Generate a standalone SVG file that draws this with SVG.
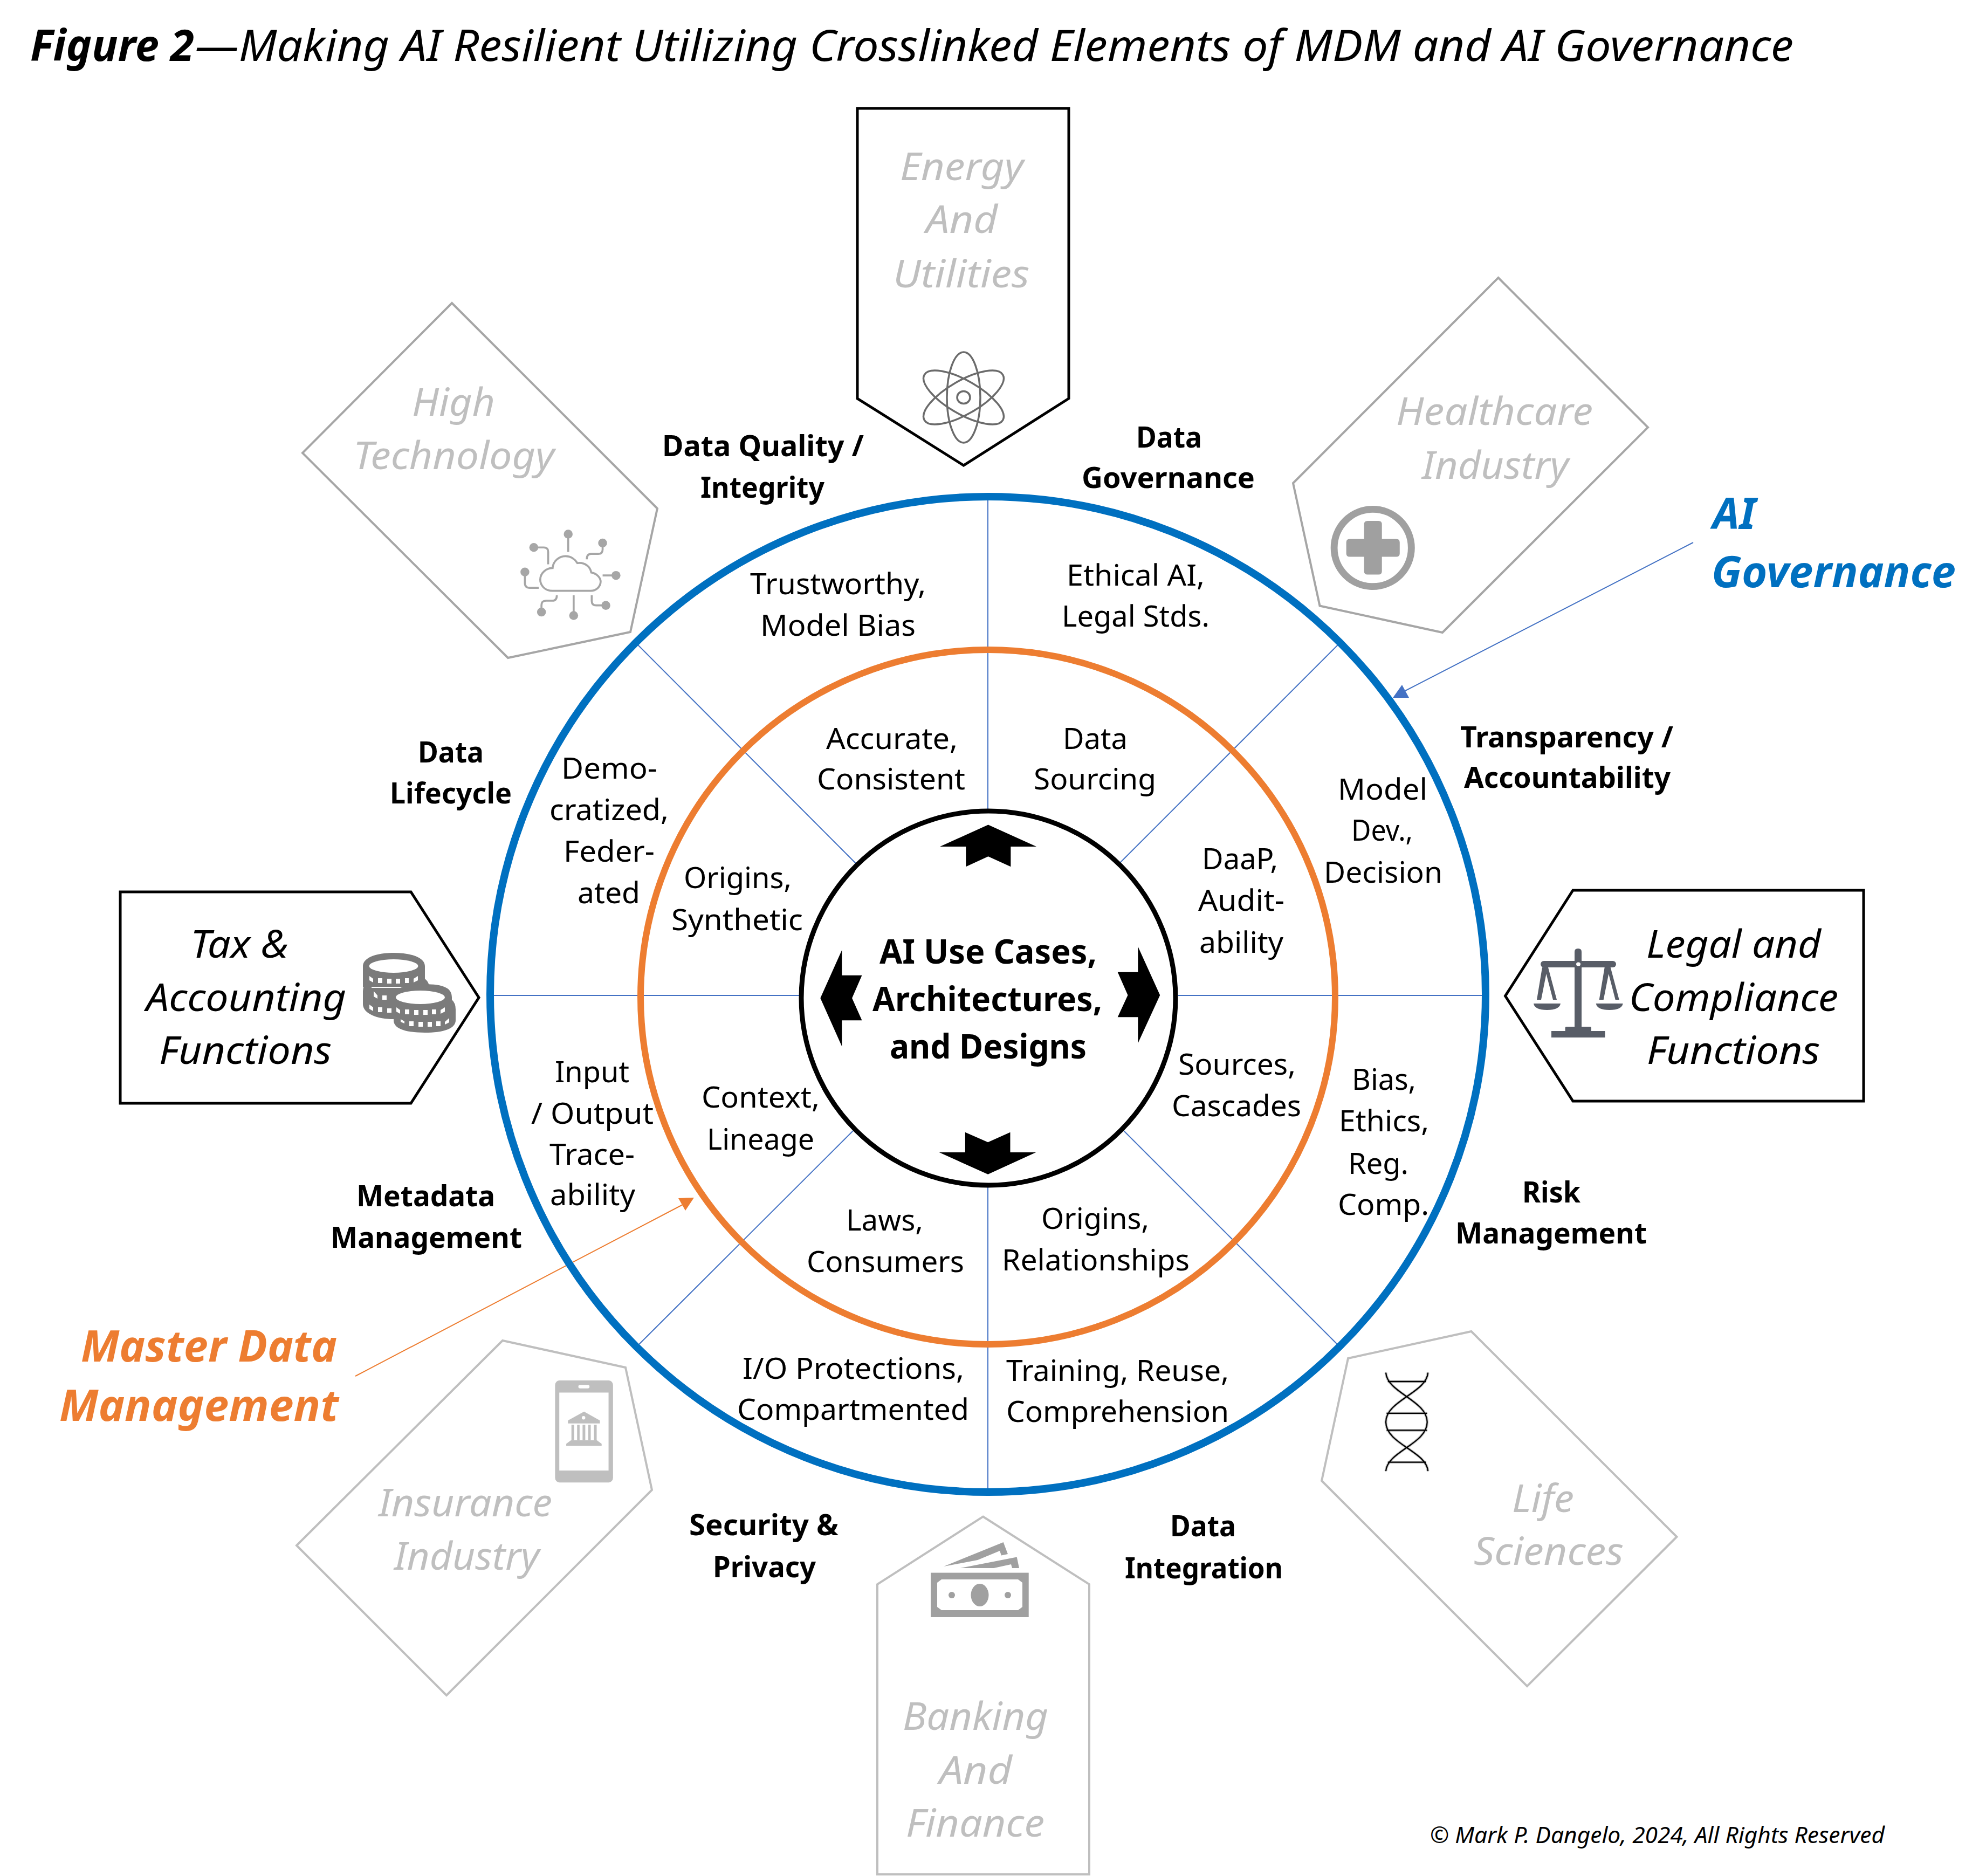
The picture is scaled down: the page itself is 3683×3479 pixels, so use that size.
<svg xmlns="http://www.w3.org/2000/svg" width="3683" height="3479" viewBox="0 0 3683 3479">
<style>
text{font-family:"Noto Sans","Open Sans","Liberation Sans",sans-serif;fill:#000}
.lbl{font-size:54px}
.bld{font-size:54px;font-weight:700}
.core{font-size:62px;font-weight:700}
.func{font-size:72px;font-style:italic}
.ind{font-size:72px;font-style:italic;fill:#BFBFBF}
.title{font-size:80px;font-style:italic}
.call{font-size:80px;font-style:italic;font-weight:700}
.note{font-size:41px;font-style:italic}
.ringB{fill:none;stroke:#0070C0;stroke-width:14}
.ringO{fill:none;stroke:#ED7D31;stroke-width:12}
.ringK{fill:#fff;stroke:#000;stroke-width:9}
.spoke{fill:none;stroke:#4472C4;stroke-width:2}
.pK{fill:#fff;stroke:#000;stroke-width:5}
.pG1{fill:#fff;stroke:#A6A6A6;stroke-width:4}
.pG2{fill:#fff;stroke:#BFBFBF;stroke-width:4}
</style>
<rect width="3683" height="3479" fill="#fff"/>

<g id="title">
<text class="title" y="113"><tspan x="56" font-weight="700" textLength="304" lengthAdjust="spacingAndGlyphs">Figure 2</tspan><tspan x="362" textLength="2964" lengthAdjust="spacingAndGlyphs">—Making AI Resilient Utilizing Crosslinked Elements of MDM and AI Governance</tspan></text>
</g>

<g id="connectors">
<path class="spoke" d="M1832 918V1502M1832 2194V2770M908 1846H1482M2185 1846H2757M1180 1193L1588 1602M2484 1193L2077 1600M1180 2498L1582 2097M2483 2496L2084 2097"/>
<path d="M3140 1006L2606 1281" fill="none" stroke="#4472C4" stroke-width="2"/>
<polygon points="2600,1270 2583,1294 2613,1294" fill="#4472C4"/>
<path d="M659 2552L1266 2234" fill="none" stroke="#ED7D31" stroke-width="2"/>
<polygon points="1287,2221 1258,2222 1271,2245" fill="#ED7D31"/>
</g>

<g id="ai-governance-ring"><circle class="ringB" cx="1832" cy="1844" r="923"/></g>
<g id="mdm-ring"><circle class="ringO" cx="1832" cy="1849" r="644"/></g>

<g id="core">
<circle class="ringK" cx="1833" cy="1851" r="347"/>
<g transform="translate(1480 1480) scale(.4591)" fill="#000">
<polygon points="768,108 963,196 859,196 859,277 768,236 678,277 678,196 573,196"/>
<polygon points="1462,796 1373,990 1373,885 1291,885 1332,796 1291,703 1373,703 1373,600"/>
<polygon points="90,808 177,614 177,716 258,716 218,808 258,898 177,898 177,1003"/>
<polygon points="767,1520 570,1431 675,1431 675,1350 767,1390 857,1350 857,1431 961,1431"/>
</g>
<text class="core" x="1631" y="1787" textLength="403" lengthAdjust="spacingAndGlyphs">AI Use Cases,</text>
<text class="core" x="1618" y="1875" textLength="426" lengthAdjust="spacingAndGlyphs">Architectures,</text>
<text class="core" x="1650" y="1963" textLength="365" lengthAdjust="spacingAndGlyphs">and Designs</text>
</g>

<g id="ring-topics" transform="translate(0 -2)">
<text class="bld" x="1228" y="848" textLength="374" lengthAdjust="spacingAndGlyphs">Data Quality /</text>
<text class="bld" x="1299" y="925" textLength="230" lengthAdjust="spacingAndGlyphs">Integrity</text>
<text class="bld" x="2107" y="832" textLength="122" lengthAdjust="spacingAndGlyphs">Data</text>
<text class="bld" x="2006" y="907" textLength="321" lengthAdjust="spacingAndGlyphs">Governance</text>
<text class="bld" x="2708" y="1388" textLength="395" lengthAdjust="spacingAndGlyphs">Transparency /</text>
<text class="bld" x="2715" y="1463" textLength="383" lengthAdjust="spacingAndGlyphs">Accountability</text>
<text class="bld" x="775" y="1416" textLength="122" lengthAdjust="spacingAndGlyphs">Data</text>
<text class="bld" x="723" y="1492" textLength="226" lengthAdjust="spacingAndGlyphs">Lifecycle</text>
<text class="bld" x="661" y="2239" textLength="257" lengthAdjust="spacingAndGlyphs">Metadata</text>
<text class="bld" x="613" y="2316" textLength="355" lengthAdjust="spacingAndGlyphs">Management</text>
<text class="bld" x="2823" y="2232" textLength="108" lengthAdjust="spacingAndGlyphs">Risk</text>
<text class="bld" x="2699" y="2308" textLength="355" lengthAdjust="spacingAndGlyphs">Management</text>
<text class="bld" x="1278" y="2849" textLength="277" lengthAdjust="spacingAndGlyphs">Security &amp;</text>
<text class="bld" x="1322" y="2927" textLength="191" lengthAdjust="spacingAndGlyphs">Privacy</text>
<text class="bld" x="2170" y="2851" textLength="122" lengthAdjust="spacingAndGlyphs">Data</text>
<text class="bld" x="2086" y="2929" textLength="293" lengthAdjust="spacingAndGlyphs">Integration</text>
</g>

<g id="outer-band" transform="translate(0 -3)">
<text class="lbl" x="1391" y="1105" textLength="326" lengthAdjust="spacingAndGlyphs">Trustworthy,</text>
<text class="lbl" x="1410" y="1182" textLength="288" lengthAdjust="spacingAndGlyphs">Model Bias</text>
<text class="lbl" x="1978" y="1089" textLength="256" lengthAdjust="spacingAndGlyphs">Ethical AI,</text>
<text class="lbl" x="1969" y="1165" textLength="274" lengthAdjust="spacingAndGlyphs">Legal Stds.</text>
<text class="lbl" x="1041" y="1447" textLength="178" lengthAdjust="spacingAndGlyphs">Demo-</text>
<text class="lbl" x="1019" y="1524" textLength="221" lengthAdjust="spacingAndGlyphs">cratized,</text>
<text class="lbl" x="1045" y="1601" textLength="169" lengthAdjust="spacingAndGlyphs">Feder-</text>
<text class="lbl" x="1071" y="1678" textLength="116" lengthAdjust="spacingAndGlyphs">ated</text>
<text class="lbl" x="2481" y="1486" textLength="166" lengthAdjust="spacingAndGlyphs">Model</text>
<text class="lbl" x="2506" y="1562" textLength="114" lengthAdjust="spacingAndGlyphs">Dev.,</text>
<text class="lbl" x="2455" y="1640" textLength="220" lengthAdjust="spacingAndGlyphs">Decision</text>
<text class="lbl" x="2507" y="2024" textLength="119" lengthAdjust="spacingAndGlyphs">Bias,</text>
<text class="lbl" x="2483" y="2101" textLength="167" lengthAdjust="spacingAndGlyphs">Ethics,</text>
<text class="lbl" x="2500" y="2180" textLength="112" lengthAdjust="spacingAndGlyphs">Reg.</text>
<text class="lbl" x="2481" y="2256" textLength="169" lengthAdjust="spacingAndGlyphs">Comp.</text>
<text class="lbl" x="1029" y="2010" textLength="138" lengthAdjust="spacingAndGlyphs">Input</text>
<text class="lbl" x="985" y="2087" textLength="227" lengthAdjust="spacingAndGlyphs">/ Output</text>
<text class="lbl" x="1019" y="2163" textLength="158" lengthAdjust="spacingAndGlyphs">Trace-</text>
<text class="lbl" x="1020" y="2238" textLength="158" lengthAdjust="spacingAndGlyphs">ability</text>
<text class="lbl" x="1377" y="2560" textLength="411" lengthAdjust="spacingAndGlyphs">I/O Protections,</text>
<text class="lbl" x="1367" y="2636" textLength="430" lengthAdjust="spacingAndGlyphs">Compartmented</text>
<text class="lbl" x="1866" y="2564" textLength="413" lengthAdjust="spacingAndGlyphs">Training, Reuse,</text>
<text class="lbl" x="1866" y="2640" textLength="413" lengthAdjust="spacingAndGlyphs">Comprehension</text>
</g>

<g id="inner-band" transform="translate(0 -4)">
<text class="lbl" x="1532" y="1393" textLength="244" lengthAdjust="spacingAndGlyphs">Accurate,</text>
<text class="lbl" x="1515" y="1468" textLength="275" lengthAdjust="spacingAndGlyphs">Consistent</text>
<text class="lbl" x="1971" y="1393" textLength="120" lengthAdjust="spacingAndGlyphs">Data</text>
<text class="lbl" x="1917" y="1468" textLength="227" lengthAdjust="spacingAndGlyphs">Sourcing</text>
<text class="lbl" x="1268" y="1651" textLength="200" lengthAdjust="spacingAndGlyphs">Origins,</text>
<text class="lbl" x="1245" y="1729" textLength="244" lengthAdjust="spacingAndGlyphs">Synthetic</text>
<text class="lbl" x="2229" y="1616" textLength="141" lengthAdjust="spacingAndGlyphs">DaaP,</text>
<text class="lbl" x="2222" y="1693" textLength="160" lengthAdjust="spacingAndGlyphs">Audit-</text>
<text class="lbl" x="2224" y="1771" textLength="156" lengthAdjust="spacingAndGlyphs">ability</text>
<text class="lbl" x="2185" y="1997" textLength="218" lengthAdjust="spacingAndGlyphs">Sources,</text>
<text class="lbl" x="2173" y="2074" textLength="240" lengthAdjust="spacingAndGlyphs">Cascades</text>
<text class="lbl" x="1301" y="2058" textLength="219" lengthAdjust="spacingAndGlyphs">Context,</text>
<text class="lbl" x="1311" y="2136" textLength="199" lengthAdjust="spacingAndGlyphs">Lineage</text>
<text class="lbl" x="1569" y="2286" textLength="143" lengthAdjust="spacingAndGlyphs">Laws,</text>
<text class="lbl" x="1496" y="2363" textLength="292" lengthAdjust="spacingAndGlyphs">Consumers</text>
<text class="lbl" x="1931" y="2283" textLength="200" lengthAdjust="spacingAndGlyphs">Origins,</text>
<text class="lbl" x="1858" y="2360" textLength="348" lengthAdjust="spacingAndGlyphs">Relationships</text>
</g>

<g id="node-energy">
<polygon class="pK" points="1590,201 1982,201 1982,739 1787,863 1590,739"/>
<text class="ind" x="1669" y="334" textLength="229" lengthAdjust="spacingAndGlyphs">Energy</text>
<text class="ind" x="1717" y="432" textLength="133" lengthAdjust="spacingAndGlyphs">And</text>
<text class="ind" x="1656" y="533" textLength="253" lengthAdjust="spacingAndGlyphs">Utilities</text>
<g fill="none" stroke="#6B6B6B" stroke-width="3.5">
<ellipse cx="1787" cy="737" rx="31" ry="84"/>
<ellipse cx="1787" cy="737" rx="31" ry="84" transform="rotate(60 1787 737)"/>
<ellipse cx="1787" cy="737" rx="31" ry="84" transform="rotate(-60 1787 737)"/>
<ellipse cx="1787" cy="737" rx="12" ry="11.5"/>
</g>
</g>

<g id="node-high-technology">
<polygon class="pG1" points="838,562 1219,943 1169,1172 942,1220 561,840"/>
<text class="ind" x="764" y="771" textLength="154" lengthAdjust="spacingAndGlyphs">High</text>
<text class="ind" x="655" y="870" textLength="373" lengthAdjust="spacingAndGlyphs">Technology</text>
<g transform="translate(540 530) scale(.4591)" fill="none" stroke="#A6A6A6" stroke-width="8">
<path d="M1055 1232C1020 1232 1006 1205 1006 1187C1006 1160 1030 1140 1056 1140C1058 1110 1085 1092 1108 1092C1130 1092 1147 1105 1156 1120C1185 1115 1208 1135 1212 1158C1235 1162 1250 1180 1250 1195C1250 1215 1232 1232 1210 1232Z"/>
<path d="M1119 1003V1075M980 1057H1020Q1038 1057 1038 1075V1125M1258 1039V1065Q1258 1083 1240 1083H1212Q1194 1083 1194 1105M944 1156V1200Q944 1220 964 1220H1000M1312 1170H1258M1271 1291H1232Q1214 1291 1214 1273V1250M1141 1332V1250M1011 1318V1290Q1011 1272 1029 1272H1055Q1073 1272 1073 1250"/>
<g fill="#A6A6A6" stroke="none">
<circle cx="1119" cy="1003" r="18"/><circle cx="980" cy="1057" r="18"/><circle cx="1258" cy="1039" r="18"/><circle cx="944" cy="1156" r="18"/>
<circle cx="1312" cy="1170" r="18"/><circle cx="1271" cy="1291" r="18"/><circle cx="1141" cy="1332" r="18"/><circle cx="1011" cy="1318" r="18"/>
</g>
</g>
</g>

<g id="node-healthcare">
<polygon class="pG1" points="2778.5,515 3056,792.5 2675,1173 2447.5,1123.5 2398,896"/>
<text class="ind" x="2589" y="788" textLength="365" lengthAdjust="spacingAndGlyphs">Healthcare</text>
<text class="ind" x="2637" y="888" textLength="272" lengthAdjust="spacingAndGlyphs">Industry</text>
<g transform="translate(2380 500) scale(.4591)">
<circle cx="361" cy="1124" r="156" fill="none" stroke="#A0A0A0" stroke-width="28"/>
<path d="M340 1015H384Q398 1015 398 1029V1088H456Q470 1088 470 1102V1146Q470 1160 456 1160H398V1218Q398 1232 384 1232H340Q326 1232 326 1218V1160H268Q254 1160 254 1146V1102Q254 1088 268 1088H326V1029Q326 1015 340 1015Z" fill="#A0A0A0"/>
</g>
</g>

<g id="node-tax">
<polygon class="pK" points="223,1654 762,1654 888,1850 762,2046 223,2046"/>
<text class="func" x="353" y="1776" textLength="182" lengthAdjust="spacingAndGlyphs">Tax &amp;</text>
<text class="func" x="271" y="1875" textLength="371" lengthAdjust="spacingAndGlyphs">Accounting</text>
<text class="func" x="295" y="1973" textLength="320" lengthAdjust="spacingAndGlyphs">Functions</text>
<g fill="#7B7B7B">
<path d="M673 1792C673 1775 700 1767 730 1767C761 1767 788 1775 788 1792V1815Q796 1822 796 1830H673V1792Z"/>
<path d="M673 1838Q673 1828 680 1824L690 1832H780V1880H730Q673 1880 673 1858Z"/>
<path d="M673 1838V1862C673 1880 700 1890 730 1890V1838Z"/>
<path d="M730 1850C730 1833 750 1825 785 1825C825 1825 838 1833 838 1850V1854Q845 1860 845 1872V1892C845 1908 822 1915 788 1915C753 1915 730 1908 730 1892Z"/>
</g>
<g fill="#fff">
<ellipse cx="730" cy="1791.5" rx="45.5" ry="12.5"/>
<ellipse cx="779.5" cy="1849.5" rx="45.5" ry="12.5"/>
<path d="M685 1810L692 1815V1822L685 1818ZM701 1814H709V1823H701ZM718 1815H726V1824H718ZM734 1815H742V1824H734ZM751 1814H758V1823H751ZM767 1815L775 1810V1818L767 1822Z"/>
<path d="M693 1838L700 1846V1852L693 1848ZM709 1846H717V1854H709Z"/>
<path d="M685 1863L692 1868V1875L685 1871ZM701 1868H709V1877H701ZM718 1870H726V1878H718Z"/>
<path d="M735 1868L742 1873V1880L735 1876ZM751 1872H759V1881H751ZM768 1873H776V1882H768ZM785 1873H793V1882H785ZM801 1872H809V1881H801ZM817 1873L825 1868V1876L817 1880Z"/>
<path d="M743 1890L750 1894V1898L743 1895ZM759 1894H767V1903H759ZM776 1895H784V1904H776ZM793 1895H801V1904H793ZM809 1894H817V1903H809ZM825 1895L833 1888V1896L825 1900Z"/>
</g>
</g>

<g id="node-legal">
<polygon class="pK" points="3456,1651 2917,1651 2791.5,1847 2917,2042 3456,2042"/>
<text class="func" x="3053" y="1776" textLength="324" lengthAdjust="spacingAndGlyphs">Legal and</text>
<text class="func" x="3021" y="1875" textLength="388" lengthAdjust="spacingAndGlyphs">Compliance</text>
<text class="func" x="3054" y="1973" textLength="321" lengthAdjust="spacingAndGlyphs">Functions</text>
<g fill="#585D67">
<path d="M2920 1765Q2920 1759 2926.500 1759Q2933 1759 2933 1765V1905H2920Z"/>
<rect x="2857" y="1782" width="140" height="12" rx="6"/>
<polygon points="2927,1775 2939,1788 2927,1801 2915,1788"/>
<polygon points="2860,1794 2850,1854 2858,1854 2867.500,1806 2880,1854 2887,1854 2871,1794"/>
<polygon points="2975.700,1794 2965.700,1854 2973.700,1854 2983.200,1806 2995.700,1854 3002.700,1854 2986.700,1794"/>
<path d="M2844 1861H2894Q2892 1873 2869 1873Q2846 1873 2844 1861Z"/>
<path d="M2959.700 1861H3009.700Q3007.700 1873 2984.700 1873Q2961.700 1873 2959.700 1861Z"/>
<rect x="2877" y="1912" width="99.500" height="12"/>
<rect x="2902.600" y="1904" width="48.400" height="9" rx="2"/>
</g>
<ellipse cx="2927" cy="1788" rx="4" ry="3.500" fill="#fff"/>
</g>

<g id="node-insurance">
<polygon class="pG2" points="932,2486 1160,2536 1209,2763 828,3144 550,2866"/>
<text class="ind" x="702" y="2812" textLength="322" lengthAdjust="spacingAndGlyphs">Insurance</text>
<text class="ind" x="731" y="2911" textLength="269" lengthAdjust="spacingAndGlyphs">Industry</text>
<g transform="translate(540 2470) scale(.4591)">
<rect x="1066" y="196" width="234" height="412" rx="18" fill="#BFBFBF"/>
<rect x="1083" y="245" width="199" height="315" fill="#fff"/>
<rect x="1160" y="214" width="45" height="14" rx="7" fill="#fff"/>
<g fill="#BFBFBF">
<polygon points="1183,322 1247,358 1247,370 1118,370 1118,358"/>
<rect x="1132" y="375" width="11" height="62"/><rect x="1155" y="375" width="10" height="62"/><rect x="1177" y="375" width="11" height="62"/><rect x="1200" y="375" width="10" height="62"/><rect x="1223" y="375" width="11" height="62"/>
<polygon points="1111,452 1130,438 1235,438 1254,452 1254,460 1111,460"/>
</g>
<circle cx="1181" cy="347" r="7" fill="#fff"/>
</g>
</g>

<g id="node-life-sciences">
<polygon class="pG2" points="2500,2519 2728.500,2469 3109.500,2850 2832,3127 2451,2746"/>
<text class="ind" x="2804" y="2803.500" textLength="115" lengthAdjust="spacingAndGlyphs">Life</text>
<text class="ind" x="2733" y="2902" textLength="278" lengthAdjust="spacingAndGlyphs">Sciences</text>
<g transform="translate(2430 2450) scale(.4591)" fill="none">
<path d="M305 208C310 290 472 320 472 408C472 496 310 526 305 606M475 208C470 290 305 320 305 408C305 496 470 526 475 606M313 244H468M308 372H472M308 441H472M313 570H468" stroke="#C4C4C4" stroke-width="11"/>
<path d="M305 208C310 290 472 320 472 408C472 496 310 526 305 606M475 208C470 290 305 320 305 408C305 496 470 526 475 606M313 244H468M308 372H472M308 441H472M313 570H468" stroke="#000" stroke-width="5"/>
</g>
</g>

<g id="node-banking">
<polygon class="pG2" points="1823,2812.500 2020,2938 2020,3476 1627,3476 1627,2938"/>
<text class="ind" x="1674" y="3208" textLength="270" lengthAdjust="spacingAndGlyphs">Banking</text>
<text class="ind" x="1742" y="3308" textLength="135" lengthAdjust="spacingAndGlyphs">And</text>
<text class="ind" x="1680" y="3406" textLength="257" lengthAdjust="spacingAndGlyphs">Finance</text>
<g fill="#A0A0A0">
<polygon points="1750,2905 1860.700,2860 1869,2882 1857,2884.500 1854,2876 1813,2893"/>
<polygon points="1781,2908 1885.700,2887.600 1890,2908 1877,2908 1875,2901 1843,2908"/>
<rect x="1726" y="2916.600" width="181.700" height="82.400"/>
</g>
<polygon points="1746,2929 1888,2929 1896,2935 1896,2980 1888,2986 1746,2986 1738,2980 1738,2935" fill="#fff"/>
<g fill="#A0A0A0">
<ellipse cx="1817" cy="2958" rx="16.500" ry="21"/>
<ellipse cx="1765" cy="2958" rx="6" ry="6"/>
<ellipse cx="1869" cy="2958" rx="6" ry="6"/>
</g>
</g>

<g id="callout-ai-governance">
<text class="call" style="fill:#0070C0" x="3176" y="981" textLength="80" lengthAdjust="spacingAndGlyphs">AI</text>
<text class="call" style="fill:#0070C0" x="3174" y="1089" textLength="453" lengthAdjust="spacingAndGlyphs">Governance</text>
</g>
<g id="callout-mdm">
<text class="call" style="fill:#ED7D31" x="150" y="2525" textLength="475" lengthAdjust="spacingAndGlyphs">Master Data</text>
<text class="call" style="fill:#ED7D31" x="110" y="2635" textLength="518" lengthAdjust="spacingAndGlyphs">Management</text>
</g>

<g id="copyright">
<text class="note" x="2652" y="3418" textLength="843" lengthAdjust="spacingAndGlyphs">© Mark P. Dangelo, 2024, All Rights Reserved</text>
</g>
</svg>
